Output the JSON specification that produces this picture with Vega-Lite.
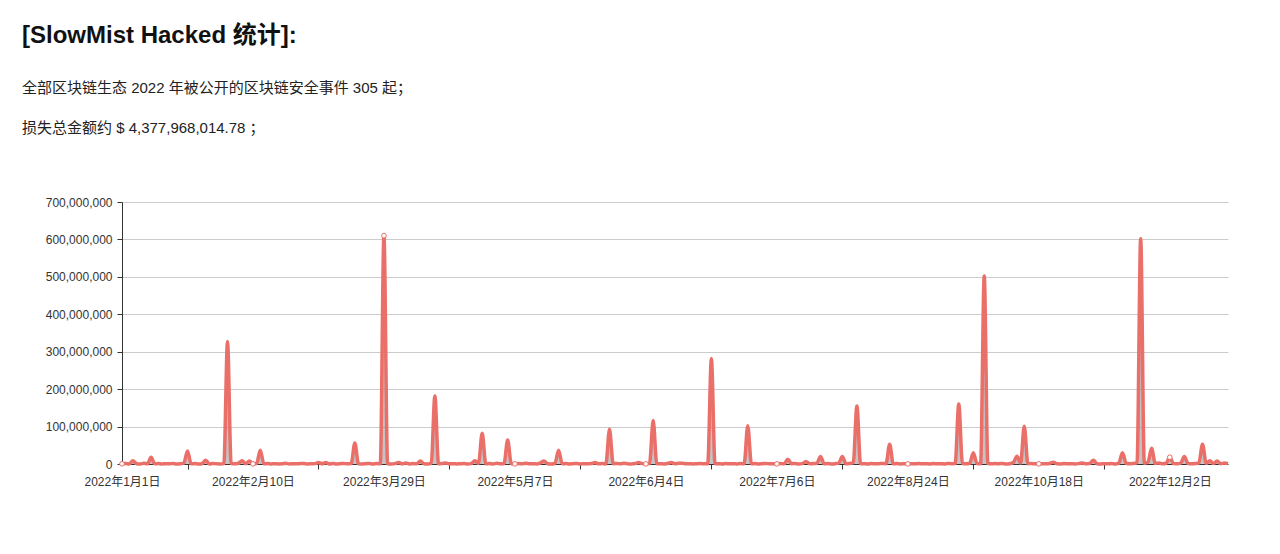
{
  "$schema": "https://vega.github.io/schema/vega-lite/v6.json",
  "autosize": {"type": "none"},
  "padding": {"left": 122, "top": 202, "right": 52, "bottom": 90},
  "width": 1106,
  "height": 262,
  "background": "white",
  "title": {
    "text": "[SlowMist Hacked 统计]:",
    "subtitle": ["全部区块链生态 2022 年被公开的区块链安全事件 305 起；", "损失总金额约 $ 4,377,968,014.78 ；"],
    "anchor": "start",
    "frame": "group",
    "dx": -100,
    "offset": 60,
    "font": "Liberation Sans, Noto Sans CJK SC, sans-serif",
    "fontSize": 24,
    "fontWeight": "bold",
    "color": "#111111",
    "subtitleFont": "Liberation Sans, Noto Sans CJK SC, sans-serif",
    "subtitleFontSize": 15,
    "subtitleColor": "#222222",
    "subtitleLineHeight": 40,
    "subtitlePadding": 33
  },
  "datasets": {
    "events": [
      {"n":0,"date":"2022-01-01","loss":500000},{"n":1,"date":"2022-01-02","loss":1200000},{"n":2,"date":"2022-01-03","loss":300000},{"n":3,"date":"2022-01-04","loss":9000000},{"n":4,"date":"2022-01-05","loss":800000},{"n":5,"date":"2022-01-06","loss":150000},{"n":6,"date":"2022-01-07","loss":2100000},{"n":7,"date":"2022-01-08","loss":400000},{"n":8,"date":"2022-01-09","loss":18000000},{"n":9,"date":"2022-01-10","loss":600000},
      {"n":10,"date":"2022-01-11","loss":1300000},{"n":11,"date":"2022-01-12","loss":200000},{"n":12,"date":"2022-01-13","loss":900000},{"n":13,"date":"2022-01-14","loss":350000},{"n":14,"date":"2022-01-15","loss":1600000},{"n":15,"date":"2022-01-17","loss":100000},{"n":16,"date":"2022-01-18","loss":700000},{"n":17,"date":"2022-01-19","loss":2400000},{"n":18,"date":"2022-01-20","loss":35000000},{"n":19,"date":"2022-01-21","loss":450000},
      {"n":20,"date":"2022-01-22","loss":1100000},{"n":21,"date":"2022-01-24","loss":250000},{"n":22,"date":"2022-01-25","loss":800000},{"n":23,"date":"2022-01-26","loss":10000000},{"n":24,"date":"2022-01-27","loss":300000},{"n":25,"date":"2022-01-28","loss":1500000},{"n":26,"date":"2022-01-29","loss":600000},{"n":27,"date":"2022-01-30","loss":200000},{"n":28,"date":"2022-01-31","loss":1000000},{"n":29,"date":"2022-02-02","loss":327000000},
      {"n":30,"date":"2022-02-03","loss":1200000},{"n":31,"date":"2022-02-04","loss":400000},{"n":32,"date":"2022-02-05","loss":2000000},{"n":33,"date":"2022-02-06","loss":9000000},{"n":34,"date":"2022-02-07","loss":700000},{"n":35,"date":"2022-02-08","loss":8000000},{"n":36,"date":"2022-02-10","loss":300000},{"n":37,"date":"2022-02-11","loss":1000000},{"n":38,"date":"2022-02-12","loss":37000000},{"n":39,"date":"2022-02-13","loss":500000},
      {"n":40,"date":"2022-02-15","loss":1400000},{"n":41,"date":"2022-02-16","loss":200000},{"n":42,"date":"2022-02-17","loss":900000},{"n":43,"date":"2022-02-19","loss":300000},{"n":44,"date":"2022-02-20","loss":600000},{"n":45,"date":"2022-02-21","loss":2000000},{"n":46,"date":"2022-02-23","loss":150000},{"n":47,"date":"2022-02-24","loss":800000},{"n":48,"date":"2022-02-25","loss":400000},{"n":49,"date":"2022-02-27","loss":1100000},
      {"n":50,"date":"2022-02-28","loss":1500000},{"n":51,"date":"2022-03-01","loss":200000},{"n":52,"date":"2022-03-03","loss":700000},{"n":53,"date":"2022-03-04","loss":1000000},{"n":54,"date":"2022-03-05","loss":4000000},{"n":55,"date":"2022-03-07","loss":600000},{"n":56,"date":"2022-03-08","loss":4000000},{"n":57,"date":"2022-03-09","loss":300000},{"n":58,"date":"2022-03-11","loss":1200000},{"n":59,"date":"2022-03-12","loss":100000},
      {"n":60,"date":"2022-03-13","loss":800000},{"n":61,"date":"2022-03-15","loss":1500000},{"n":62,"date":"2022-03-16","loss":400000},{"n":63,"date":"2022-03-17","loss":1000000},{"n":64,"date":"2022-03-19","loss":56000000},{"n":65,"date":"2022-03-20","loss":700000},{"n":66,"date":"2022-03-21","loss":300000},{"n":67,"date":"2022-03-22","loss":900000},{"n":68,"date":"2022-03-23","loss":1500000},{"n":69,"date":"2022-03-25","loss":200000},
      {"n":70,"date":"2022-03-26","loss":1100000},{"n":71,"date":"2022-03-27","loss":500000},{"n":72,"date":"2022-03-29","loss":610000000},{"n":73,"date":"2022-03-30","loss":800000},{"n":74,"date":"2022-03-31","loss":300000},{"n":75,"date":"2022-04-01","loss":1000000},{"n":76,"date":"2022-04-02","loss":4000000},{"n":77,"date":"2022-04-03","loss":600000},{"n":78,"date":"2022-04-04","loss":3000000},{"n":79,"date":"2022-04-05","loss":200000},
      {"n":80,"date":"2022-04-06","loss":1300000},{"n":81,"date":"2022-04-08","loss":500000},{"n":82,"date":"2022-04-09","loss":8000000},{"n":83,"date":"2022-04-10","loss":900000},{"n":84,"date":"2022-04-11","loss":300000},{"n":85,"date":"2022-04-12","loss":1200000},{"n":86,"date":"2022-04-13","loss":182000000},{"n":87,"date":"2022-04-14","loss":700000},{"n":88,"date":"2022-04-15","loss":1500000},{"n":89,"date":"2022-04-16","loss":3000000},
      {"n":90,"date":"2022-04-17","loss":400000},{"n":91,"date":"2022-04-18","loss":1000000},{"n":92,"date":"2022-04-19","loss":200000},{"n":93,"date":"2022-04-20","loss":800000},{"n":94,"date":"2022-04-21","loss":1300000},{"n":95,"date":"2022-04-22","loss":300000},{"n":96,"date":"2022-04-23","loss":1000000},{"n":97,"date":"2022-04-24","loss":9000000},{"n":98,"date":"2022-04-25","loss":1800000},{"n":99,"date":"2022-04-26","loss":82000000},
      {"n":100,"date":"2022-04-27","loss":600000},{"n":101,"date":"2022-04-28","loss":1200000},{"n":102,"date":"2022-04-29","loss":300000},{"n":103,"date":"2022-04-30","loss":2000000},{"n":104,"date":"2022-05-01","loss":500000},{"n":105,"date":"2022-05-02","loss":900000},{"n":106,"date":"2022-05-03","loss":64000000},{"n":107,"date":"2022-05-05","loss":700000},{"n":108,"date":"2022-05-07","loss":300000},{"n":109,"date":"2022-05-07","loss":1100000},
      {"n":110,"date":"2022-05-08","loss":400000},{"n":111,"date":"2022-05-08","loss":2000000},{"n":112,"date":"2022-05-09","loss":600000},{"n":113,"date":"2022-05-10","loss":1000000},{"n":114,"date":"2022-05-10","loss":200000},{"n":115,"date":"2022-05-11","loss":3000000},{"n":116,"date":"2022-05-12","loss":8000000},{"n":117,"date":"2022-05-13","loss":900000},{"n":118,"date":"2022-05-13","loss":300000},{"n":119,"date":"2022-05-14","loss":1500000},
      {"n":120,"date":"2022-05-15","loss":37000000},{"n":121,"date":"2022-05-16","loss":500000},{"n":122,"date":"2022-05-16","loss":1200000},{"n":123,"date":"2022-05-17","loss":200000},{"n":124,"date":"2022-05-18","loss":800000},{"n":125,"date":"2022-05-19","loss":1400000},{"n":126,"date":"2022-05-19","loss":300000},{"n":127,"date":"2022-05-20","loss":1000000},{"n":128,"date":"2022-05-21","loss":600000},{"n":129,"date":"2022-05-22","loss":1300000},
      {"n":130,"date":"2022-05-22","loss":4000000},{"n":131,"date":"2022-05-23","loss":500000},{"n":132,"date":"2022-05-24","loss":1100000},{"n":133,"date":"2022-05-25","loss":300000},{"n":134,"date":"2022-05-25","loss":93000000},{"n":135,"date":"2022-05-26","loss":700000},{"n":136,"date":"2022-05-27","loss":1500000},{"n":137,"date":"2022-05-28","loss":400000},{"n":138,"date":"2022-05-29","loss":2000000},{"n":139,"date":"2022-05-30","loss":800000},
      {"n":140,"date":"2022-05-31","loss":300000},{"n":141,"date":"2022-06-01","loss":1200000},{"n":142,"date":"2022-06-02","loss":4000000},{"n":143,"date":"2022-06-03","loss":1000000},{"n":144,"date":"2022-06-04","loss":300000},{"n":145,"date":"2022-06-05","loss":1300000},{"n":146,"date":"2022-06-06","loss":116000000},{"n":147,"date":"2022-06-07","loss":600000},{"n":148,"date":"2022-06-08","loss":1000000},{"n":149,"date":"2022-06-09","loss":300000},
      {"n":150,"date":"2022-06-10","loss":1500000},{"n":151,"date":"2022-06-11","loss":4000000},{"n":152,"date":"2022-06-12","loss":800000},{"n":153,"date":"2022-06-13","loss":2000000},{"n":154,"date":"2022-06-14","loss":2000000},{"n":155,"date":"2022-06-15","loss":500000},{"n":156,"date":"2022-06-16","loss":1000000},{"n":157,"date":"2022-06-17","loss":300000},{"n":158,"date":"2022-06-18","loss":800000},{"n":159,"date":"2022-06-19","loss":1200000},
      {"n":160,"date":"2022-06-20","loss":400000},{"n":161,"date":"2022-06-21","loss":900000},{"n":162,"date":"2022-06-22","loss":282000000},{"n":163,"date":"2022-06-22","loss":600000},{"n":164,"date":"2022-06-23","loss":1000000},{"n":165,"date":"2022-06-24","loss":300000},{"n":166,"date":"2022-06-25","loss":1400000},{"n":167,"date":"2022-06-26","loss":500000},{"n":168,"date":"2022-06-27","loss":900000},{"n":169,"date":"2022-06-27","loss":200000},
      {"n":170,"date":"2022-06-28","loss":1100000},{"n":171,"date":"2022-06-29","loss":700000},{"n":172,"date":"2022-06-30","loss":102000000},{"n":173,"date":"2022-07-01","loss":500000},{"n":174,"date":"2022-07-01","loss":1300000},{"n":175,"date":"2022-07-02","loss":300000},{"n":176,"date":"2022-07-03","loss":900000},{"n":177,"date":"2022-07-04","loss":1500000},{"n":178,"date":"2022-07-04","loss":400000},{"n":179,"date":"2022-07-05","loss":1000000},
      {"n":180,"date":"2022-07-06","loss":300000},{"n":181,"date":"2022-07-07","loss":1200000},{"n":182,"date":"2022-07-09","loss":600000},{"n":183,"date":"2022-07-10","loss":13000000},{"n":184,"date":"2022-07-11","loss":800000},{"n":185,"date":"2022-07-13","loss":1500000},{"n":186,"date":"2022-07-14","loss":300000},{"n":187,"date":"2022-07-15","loss":1000000},{"n":188,"date":"2022-07-17","loss":7000000},{"n":189,"date":"2022-07-18","loss":500000},
      {"n":190,"date":"2022-07-19","loss":1200000},{"n":191,"date":"2022-07-21","loss":2000000},{"n":192,"date":"2022-07-22","loss":20000000},{"n":193,"date":"2022-07-23","loss":600000},{"n":194,"date":"2022-07-25","loss":1100000},{"n":195,"date":"2022-07-26","loss":300000},{"n":196,"date":"2022-07-27","loss":900000},{"n":197,"date":"2022-07-29","loss":2500000},{"n":198,"date":"2022-07-30","loss":20000000},{"n":199,"date":"2022-07-31","loss":800000},
      {"n":200,"date":"2022-08-01","loss":1500000},{"n":201,"date":"2022-08-01","loss":3000000},{"n":202,"date":"2022-08-02","loss":155000000},{"n":203,"date":"2022-08-03","loss":600000},{"n":204,"date":"2022-08-05","loss":1000000},{"n":205,"date":"2022-08-06","loss":300000},{"n":206,"date":"2022-08-07","loss":1200000},{"n":207,"date":"2022-08-09","loss":500000},{"n":208,"date":"2022-08-10","loss":900000},{"n":209,"date":"2022-08-11","loss":1400000},
      {"n":210,"date":"2022-08-13","loss":700000},{"n":211,"date":"2022-08-14","loss":53000000},{"n":212,"date":"2022-08-16","loss":500000},{"n":213,"date":"2022-08-17","loss":1100000},{"n":214,"date":"2022-08-19","loss":300000},{"n":215,"date":"2022-08-21","loss":800000},{"n":216,"date":"2022-08-24","loss":200000},{"n":217,"date":"2022-08-25","loss":1000000},{"n":218,"date":"2022-08-27","loss":400000},{"n":219,"date":"2022-08-29","loss":1300000},
      {"n":220,"date":"2022-08-30","loss":600000},{"n":221,"date":"2022-09-01","loss":900000},{"n":222,"date":"2022-09-03","loss":300000},{"n":223,"date":"2022-09-04","loss":1200000},{"n":224,"date":"2022-09-06","loss":500000},{"n":225,"date":"2022-09-08","loss":1000000},{"n":226,"date":"2022-09-10","loss":200000},{"n":227,"date":"2022-09-12","loss":1500000},{"n":228,"date":"2022-09-14","loss":700000},{"n":229,"date":"2022-09-17","loss":1100000},
      {"n":230,"date":"2022-09-20","loss":160000000},{"n":231,"date":"2022-09-22","loss":1300000},{"n":232,"date":"2022-09-25","loss":600000},{"n":233,"date":"2022-09-28","loss":2000000},{"n":234,"date":"2022-09-30","loss":30000000},{"n":235,"date":"2022-10-02","loss":1500000},{"n":236,"date":"2022-10-04","loss":800000},{"n":237,"date":"2022-10-06","loss":502000000},{"n":238,"date":"2022-10-07","loss":1000000},{"n":239,"date":"2022-10-07","loss":400000},
      {"n":240,"date":"2022-10-08","loss":1200000},{"n":241,"date":"2022-10-08","loss":600000},{"n":242,"date":"2022-10-09","loss":1500000},{"n":243,"date":"2022-10-10","loss":300000},{"n":244,"date":"2022-10-10","loss":900000},{"n":245,"date":"2022-10-11","loss":4000000},{"n":246,"date":"2022-10-11","loss":21000000},{"n":247,"date":"2022-10-12","loss":2500000},{"n":248,"date":"2022-10-12","loss":101000000},{"n":249,"date":"2022-10-13","loss":800000},
      {"n":250,"date":"2022-10-14","loss":1200000},{"n":251,"date":"2022-10-16","loss":400000},{"n":252,"date":"2022-10-18","loss":300000},{"n":253,"date":"2022-10-19","loss":1000000},{"n":254,"date":"2022-10-20","loss":600000},{"n":255,"date":"2022-10-21","loss":1500000},{"n":256,"date":"2022-10-22","loss":5000000},{"n":257,"date":"2022-10-23","loss":700000},{"n":258,"date":"2022-10-24","loss":300000},{"n":259,"date":"2022-10-25","loss":1100000},
      {"n":260,"date":"2022-10-26","loss":500000},{"n":261,"date":"2022-10-27","loss":900000},{"n":262,"date":"2022-10-28","loss":200000},{"n":263,"date":"2022-10-29","loss":1200000},{"n":264,"date":"2022-10-31","loss":3000000},{"n":265,"date":"2022-11-01","loss":600000},{"n":266,"date":"2022-11-02","loss":1800000},{"n":267,"date":"2022-11-03","loss":10000000},{"n":268,"date":"2022-11-04","loss":800000},{"n":269,"date":"2022-11-05","loss":300000},
      {"n":270,"date":"2022-11-06","loss":1000000},{"n":271,"date":"2022-11-07","loss":500000},{"n":272,"date":"2022-11-08","loss":1300000},{"n":273,"date":"2022-11-08","loss":200000},{"n":274,"date":"2022-11-09","loss":2500000},{"n":275,"date":"2022-11-10","loss":30000000},{"n":276,"date":"2022-11-10","loss":2000000},{"n":277,"date":"2022-11-11","loss":600000},{"n":278,"date":"2022-11-11","loss":1500000},{"n":279,"date":"2022-11-12","loss":3000000},
      {"n":280,"date":"2022-11-12","loss":602000000},{"n":281,"date":"2022-11-14","loss":2000000},{"n":282,"date":"2022-11-16","loss":5000000},{"n":283,"date":"2022-11-18","loss":42000000},{"n":284,"date":"2022-11-21","loss":1500000},{"n":285,"date":"2022-11-23","loss":3000000},{"n":286,"date":"2022-11-25","loss":700000},{"n":287,"date":"2022-11-28","loss":2000000},{"n":288,"date":"2022-12-02","loss":18000000},{"n":289,"date":"2022-12-03","loss":1200000},
      {"n":290,"date":"2022-12-05","loss":800000},{"n":291,"date":"2022-12-06","loss":2500000},{"n":292,"date":"2022-12-08","loss":20000000},{"n":293,"date":"2022-12-09","loss":1500000},{"n":294,"date":"2022-12-11","loss":600000},{"n":295,"date":"2022-12-12","loss":1200000},{"n":296,"date":"2022-12-14","loss":3000000},{"n":297,"date":"2022-12-15","loss":53000000},{"n":298,"date":"2022-12-17","loss":2000000},{"n":299,"date":"2022-12-19","loss":9000000},
      {"n":300,"date":"2022-12-21","loss":1500000},{"n":301,"date":"2022-12-23","loss":8000000},{"n":302,"date":"2022-12-26","loss":1000000},{"n":303,"date":"2022-12-28","loss":2500000},{"n":304,"date":"2022-12-30","loss":1000000}
    ]
  },
  "data": {"name": "events"},
  "encoding": {
    "x": {
      "field": "n",
      "type": "quantitative",
      "title": null,
      "scale": {"domain": [0, 304], "nice": false, "zero": false},
      "axis": {
        "values": [0, 36, 72, 108, 144, 180, 216, 252, 288],
        "labelExpr": "utcFormat(toDate(data('events')[datum.value].date), '%Y年%-m月%-d日')",
        "grid": false,
        "tickOffset": 65.5,
        "labelOffset": -65.5,
        "tickOpacity": {"condition": {"test": "datum.value >= 288", "value": 0}, "value": 1},
        "tickSize": 5,
        "labelPadding": 7,
        "labelFontSize": 12,
        "labelFlush": false,
        "labelOverlap": false
      }
    },
    "y": {
      "field": "loss",
      "type": "quantitative",
      "title": null,
      "scale": {"domain": [0, 700000000], "nice": false},
      "axis": {
        "values": [0, 100000000, 200000000, 300000000, 400000000, 500000000, 600000000, 700000000],
        "format": ",d",
        "grid": true,
        "gridColor": "#cccccc",
        "tickSize": 5,
        "labelPadding": 5,
        "labelFontSize": 12
      }
    }
  },
  "layer": [
    {"mark": {"type": "area", "interpolate": "monotone", "color": "#555555", "opacity": 0.35}},
    {"mark": {"type": "line", "interpolate": "monotone", "color": "#ea6f69", "strokeWidth": 3.5}},
    {
      "transform": [{"filter": "datum.n % 36 == 0"}],
      "mark": {"type": "point", "shape": "circle", "size": 22, "filled": true, "fill": "white", "stroke": "#ea6f69", "strokeWidth": 1, "opacity": 1}
    }
  ],
  "config": {
    "view": {"stroke": null},
    "axis": {
      "labelFont": "Liberation Sans, Noto Sans CJK SC, sans-serif",
      "labelColor": "#333333",
      "domainColor": "#333333",
      "tickColor": "#333333",
      "domainWidth": 1,
      "tickWidth": 1
    }
  }
}
